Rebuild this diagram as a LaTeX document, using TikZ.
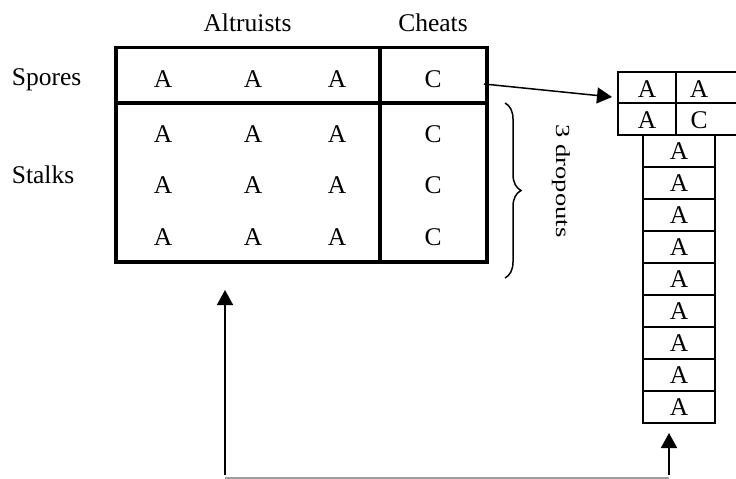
\documentclass[tikz,border=0pt]{standalone}
\usepackage{fontspec}
\usepackage{graphicx}
\setmainfont{Liberation Serif}
\usetikzlibrary{arrows.meta,decorations.pathreplacing}
\begin{document}
\begin{tikzpicture}[x=1pt,y=-1pt,
  txt/.style={inner sep=0pt, anchor=base, font=\fontsize{25.5}{30}\selectfont},
  thickline/.style={line width=3.6pt},
  thinbox/.style={line width=2pt},
  cellbox/.style={draw, line width=2pt, minimum width=72pt, minimum height=32pt, inner sep=0pt, font=\fontsize{25.5}{30}\selectfont},
  arr/.style={line width=1.8pt, -{Triangle[length=15pt,width=16pt]}},
  feed/.style={line width=1.6pt, draw=black!38}
]
\useasboundingbox (0,0) rectangle (736,479);

% main table frame
\coordinate (tNW) at (116,47.5);
\coordinate (tSE) at (487,262);
\draw[thickline] (tNW) rectangle (tSE);
\draw[thickline] (380,47.5) -- (380,262);
\draw[thickline] (116,103) -- (487,103);

% column / row labels
\node[txt] (altr) at (247.5,31) {Altruists};
\node[txt] (cheat) at (433,31) {Cheats};
\node[txt, anchor=base west] (spores) at (11.7,85) {Spores};
\node[txt, anchor=base west] (stalks) at (11.7,183) {Stalks};

% table entries
\foreach \r/\yy in {1/87,2/142,3/193,4/245}{
  \foreach \c/\xx in {1/163,2/253,3/337}{
    \node[txt] (t-\r-\c) at (\xx,\yy) {A};
  }
  \node[txt] (t-\r-4) at (433,\yy) {C};
}

% top box on the right
\draw[thinbox] (618,72) rectangle (737,135);
\draw[thinbox] (618,103) -- (737,103);
\draw[thinbox] (676,72) -- (676,135);
\node[txt] (r11) at (647,97) {A};
\node[txt] (r12) at (699,97) {A};
\node[txt] (r21) at (647,128) {A};
\node[txt] (r22) at (699,128) {C};

% stack
\foreach \i in {1,...,9}{
  \node[cellbox] (s\i) at (679,{135+32*(\i-0.5)}) {A};
}

% arrow spores -> right box
\coordinate (aStart) at (484,84);
\coordinate (aEnd) at (612,97);
\draw[arr, line width=1.5pt] (aStart) -- (aEnd);

% brace
\coordinate (bTop) at (505,103);
\coordinate (bBot) at (505,278);
\draw[decorate, decoration={brace, amplitude=16pt}, line width=1.5pt] (bTop) -- (bBot);
\node[inner sep=0pt, rotate=-90] (drop) at (561,181)
  {\fontsize{20}{24}\selectfont\scalebox{1.33}[1]{3 dropouts}};

% feedback arrows
\coordinate (fL) at (225,475);
\coordinate (fLtip) at (225,290);
\coordinate (fR) at (669,475);
\coordinate (fRtip) at (669,433);
\coordinate (gL) at (225,478);
\coordinate (gR) at (669,478);
\draw[feed] (gL) -- (gR);
\draw[arr] (fL) -- (fLtip);
\draw[arr] (fR) -- (fRtip);
\end{tikzpicture}
\end{document}
